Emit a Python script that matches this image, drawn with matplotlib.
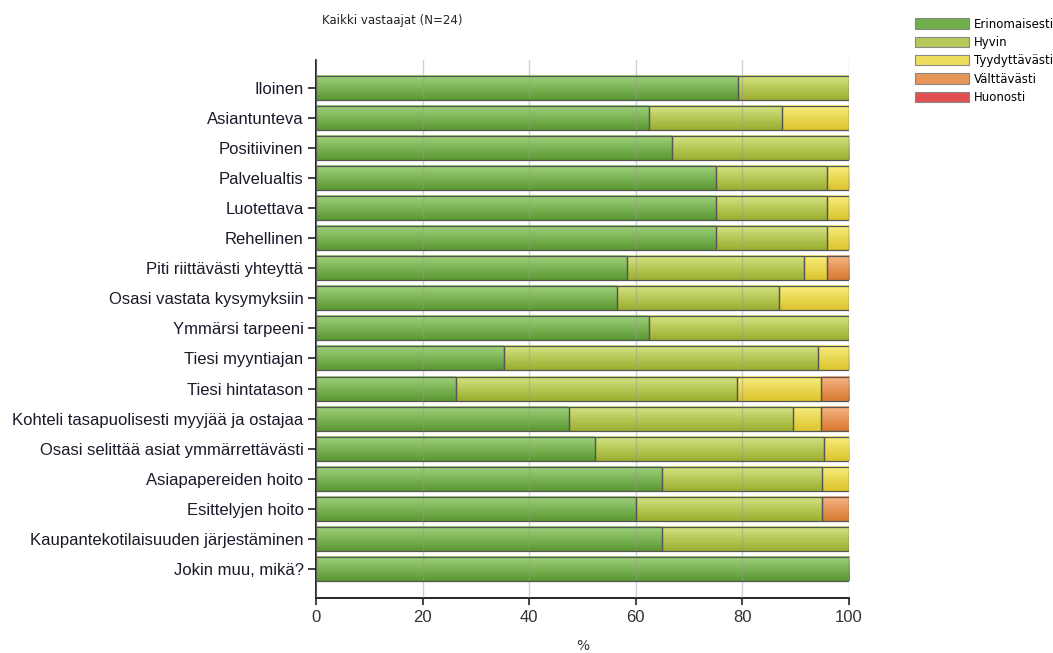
import matplotlib.pyplot as plt
import numpy as np
from matplotlib.colors import LinearSegmentedColormap
from matplotlib.patches import Patch

categories = ['Iloinen', 'Asiantunteva', 'Positiivinen', 'Palvelualtis', 'Luotettava',
              'Rehellinen', 'Piti riittävästi yhteyttä', 'Osasi vastata kysymyksiin',
              'Ymmärsi tarpeeni', 'Tiesi myyntiajan', 'Tiesi hintatason',
              'Kohteli tasapuolisesti myyjää ja ostajaa', 'Osasi selittää asiat ymmärrettävästi',
              'Asiapapereiden hoito', 'Esittelyjen hoito',
              'Kaupantekotilaisuuden järjestäminen', 'Jokin muu, mikä?']

erinomaisesti = [79.2, 62.5, 66.7, 75.0, 75.0, 75.0, 58.3, 56.5, 62.5, 35.3, 26.3, 47.4, 52.4, 65.0, 60.0, 65.0, 100.0]
hyvin = [20.8, 25.0, 33.3, 20.8, 20.8, 20.8, 33.3, 30.4, 37.5, 58.8, 52.6, 42.1, 42.9, 30.0, 35.0, 35.0, 0.0]
tyydyttavasti = [0.0, 12.5, 0.0, 4.2, 4.2, 4.2, 4.2, 13.0, 0.0, 5.9, 15.8, 5.3, 4.8, 5.0, 0.0, 0.0, 0.0]
valttavasti = [0.0, 0.0, 0.0, 0.0, 0.0, 0.0, 4.2, 0.0, 0.0, 0.0, 5.3, 5.3, 0.0, 0.0, 5.0, 0.0, 0.0]
huonosti = [0.0] * 17

series = ['Erinomaisesti', 'Hyvin', 'Tyydyttävästi', 'Välttävästi', 'Huonosti']
values = [erinomaisesti, hyvin, tyydyttavasti, valttavasti, huonosti]
# (top, bottom, legend) colours for each series
colors = [('#a0d27e', '#5a9830', '#6fae48'),
          ('#d6e484', '#9bae2e', '#b6c958'),
          ('#f9ee80', '#dcc42c', '#eedd5c'),
          ('#f7b686', '#d87830', '#e8955a'),
          ('#f08080', '#c83030', '#e05050')]

fig = plt.figure(figsize=(10.53, 6.53), dpi=100)
ax = fig.add_axes([0.3001, 0.0842, 0.5062, 0.8239])

n = len(categories)
ypos = np.arange(n)[::-1]
h = 0.8

grad = np.linspace(0, 1, 50).reshape(-1, 1)
for k, vals in enumerate(values):
    ctop, cbot, _ = colors[k]
    cmap = LinearSegmentedColormap.from_list('g', [ctop, cbot])
    for i, y in enumerate(ypos):
        left = sum(v[i] for v in values[:k])
        w = vals[i]
        if w <= 0:
            continue
        ax.imshow(grad, cmap=cmap, aspect='auto', interpolation='bilinear',
                  extent=(left, left + w, y - h / 2, y + h / 2), zorder=2)
        ax.add_patch(plt.Rectangle((left, y - h / 2), w, h, fill=False,
                                   edgecolor='#555555', linewidth=0.9, zorder=3))

ax.set_xlim(0, 100)
ax.set_ylim(-0.97, n - 1 + 0.93)
ax.set_yticks(ypos)
ax.set_yticklabels(categories, fontsize=12, color='#1a1a2a', family='Liberation Sans')
ax.set_xticks([0, 20, 40, 60, 80, 100])
ax.tick_params(axis='x', labelsize=12, length=5, width=1.2, color='#222222', labelcolor='#333333')
ax.tick_params(axis='y', length=6, width=1.2, color='#222222', pad=3)
for lab in ax.get_xticklabels():
    lab.set_family('Liberation Sans')
ax.set_xlabel('%', fontsize=10, color='#333333', labelpad=10)
ax.xaxis.grid(True, color='#999999', alpha=0.45, linewidth=1.0, zorder=4)
ax.set_axisbelow(False)
for s in ['top', 'right']:
    ax.spines[s].set_visible(False)
ax.spines['left'].set_linewidth(1.2)
ax.spines['bottom'].set_linewidth(1.2)

fig.text(0.306, 0.968, 'Kaikki vastaajat (N=24)', fontsize=8.5, color='#222222', va='center')

handles = [Patch(facecolor=c[2], edgecolor='#888888', linewidth=0.8) for c in colors]
fig.legend(handles, series, loc='upper left', bbox_to_anchor=(0.869, 0.973), frameon=False,
           fontsize=8.5, handlelength=4.6, handleheight=0.95, handletextpad=0.4, labelspacing=0.45,
           borderpad=0, borderaxespad=0)

fig.savefig('out.png', dpi=100)
